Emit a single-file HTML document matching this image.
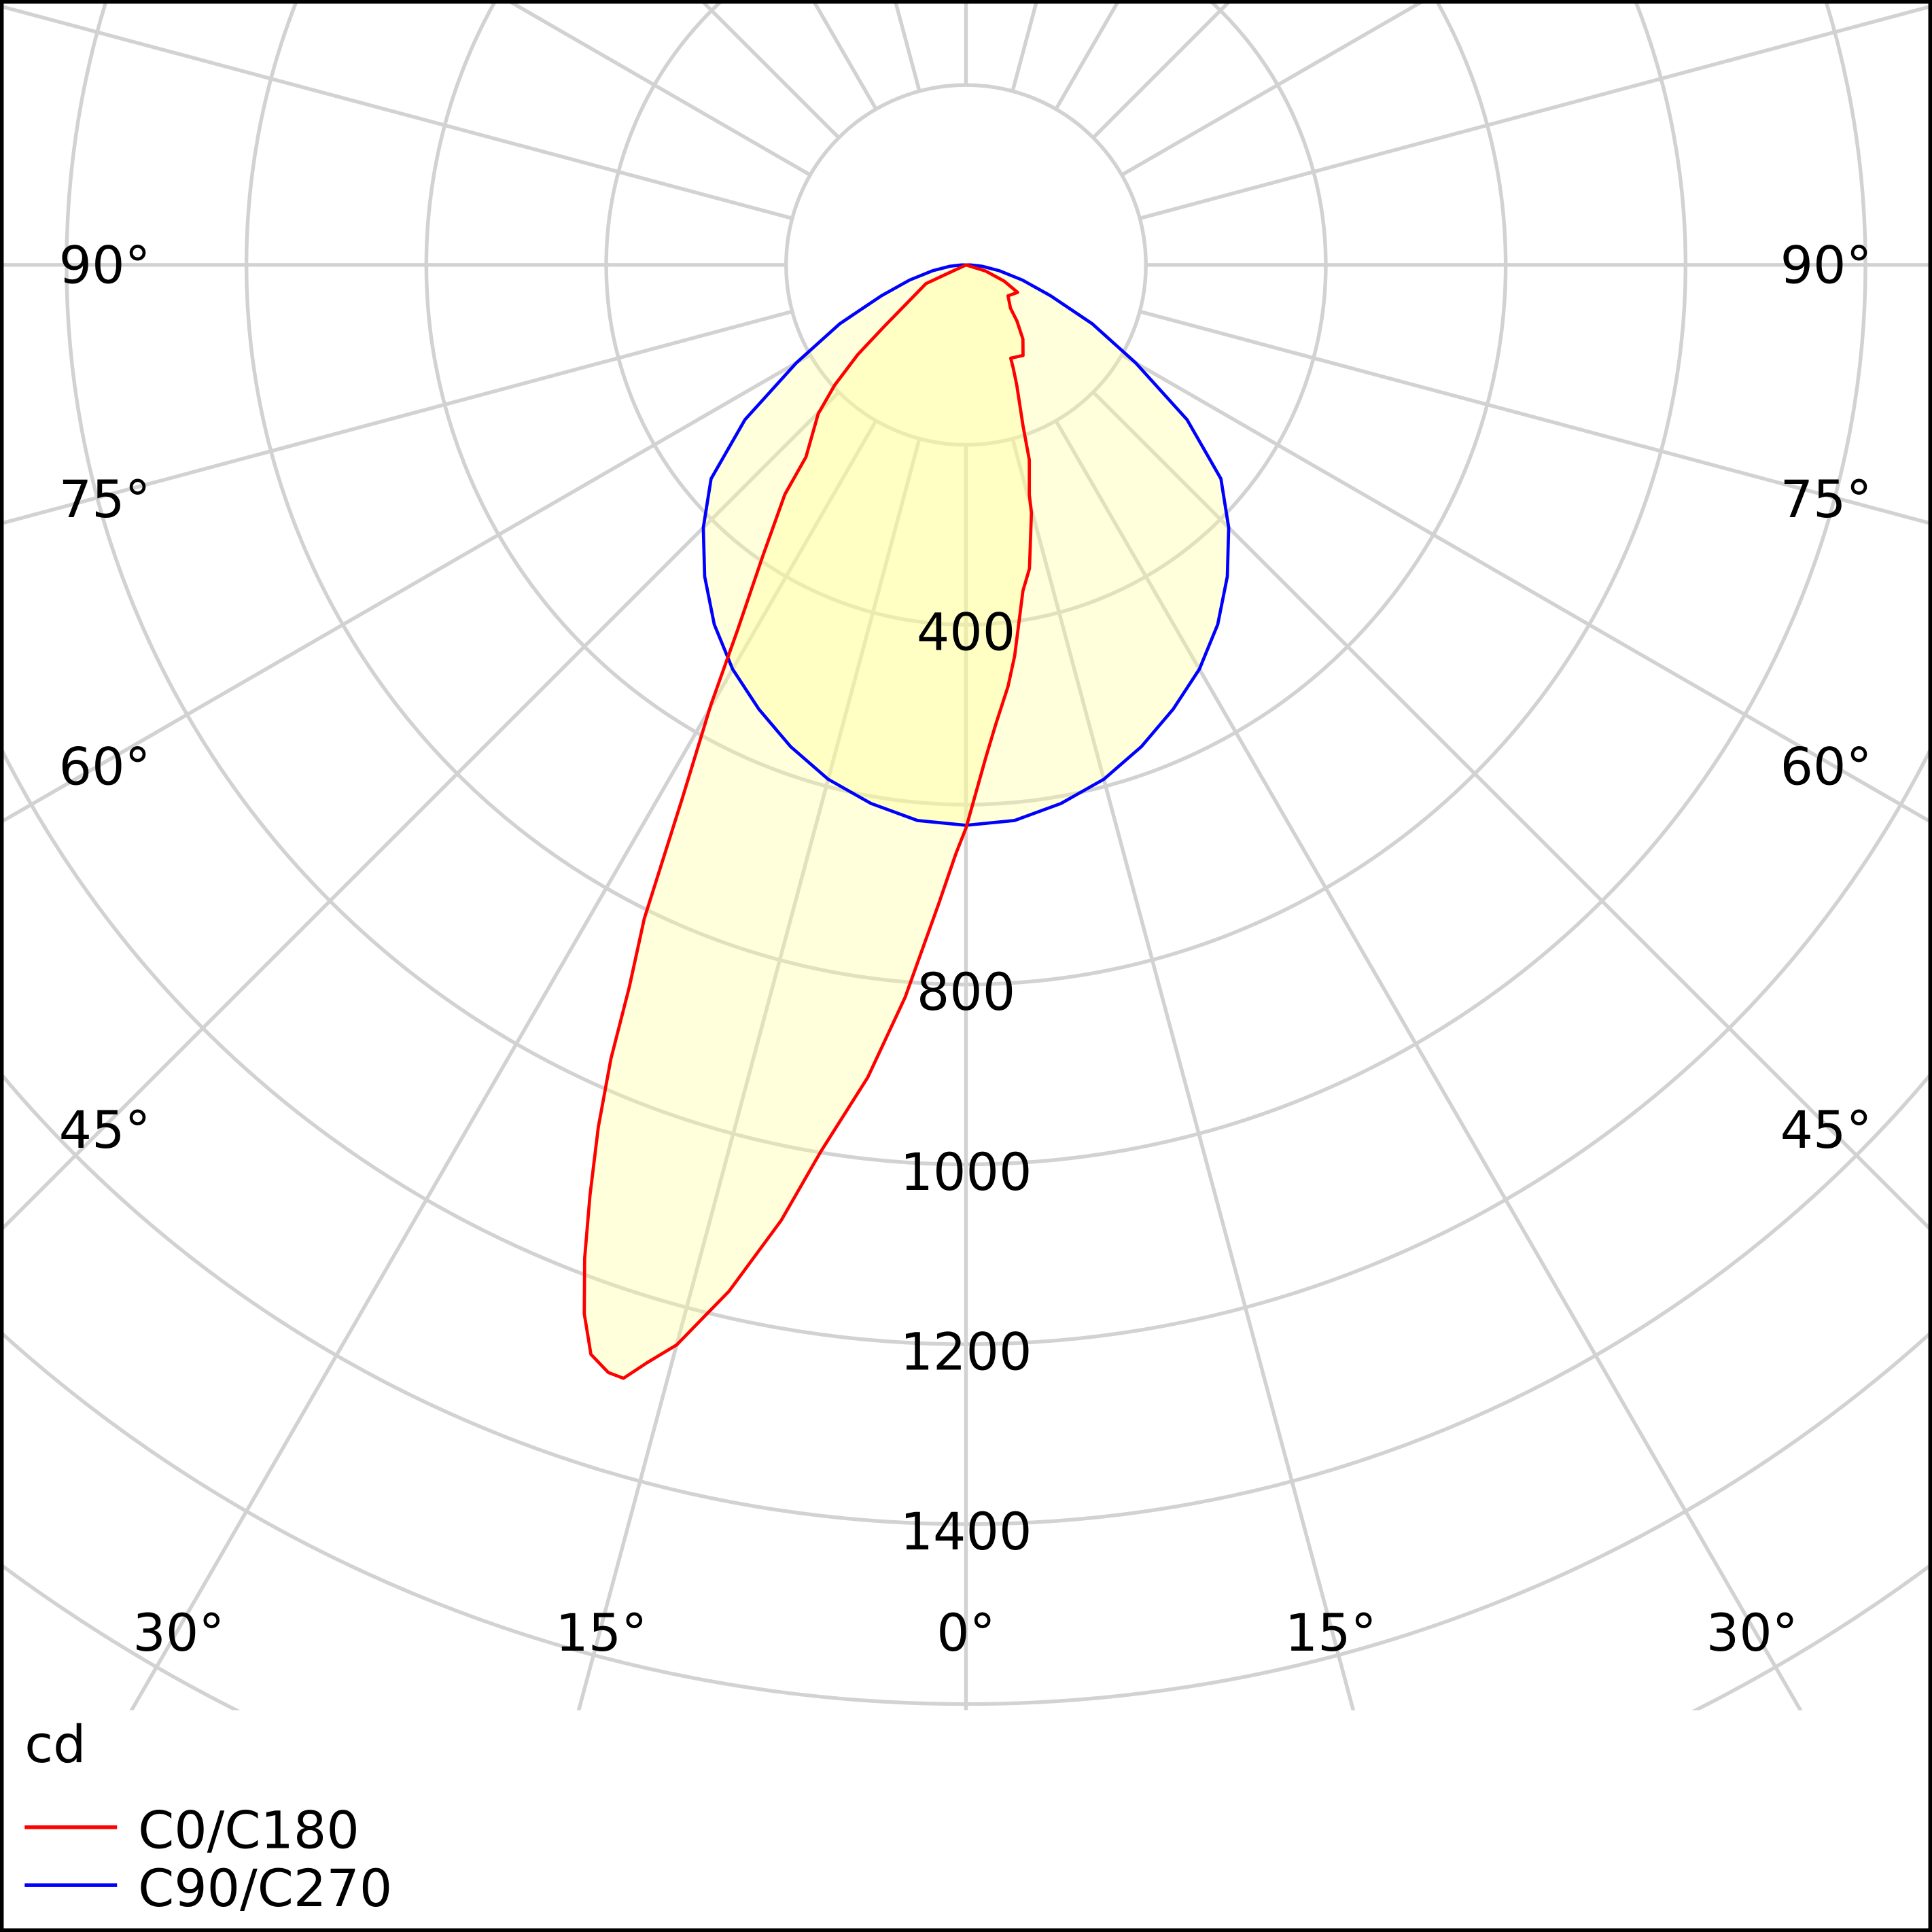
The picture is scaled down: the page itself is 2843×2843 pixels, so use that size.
<!DOCTYPE html>
<html><head><meta charset="utf-8"><style>
html,body{margin:0;padding:0;background:#fff;width:2843px;height:2843px;overflow:hidden}
svg{display:block}
text{font-family:"DejaVu Sans","Liberation Sans",sans-serif;fill:#000}
</style></head><body>
<svg id="chart" width="2843" height="2843" viewBox="0 0 1568 1568" xmlns="http://www.w3.org/2000/svg">
<defs><clipPath id="plotclip"><rect x="0" y="0" width="1568" height="1388"/></clipPath></defs>
<rect x="0" y="0" width="1568" height="1568" fill="#fff"/>
<g id="grid" clip-path="url(#plotclip)"></g>
<g id="series" clip-path="url(#plotclip)"></g>
<g id="labels"></g>
<g>
<text x="20" y="1430" font-size="42">cd</text>
<line x1="20" y1="1483" x2="95" y2="1483" stroke="#ff0000" stroke-width="3"/>
<text x="112" y="1500" font-size="42">C0/C180</text>
<line x1="20" y1="1530" x2="95" y2="1530" stroke="#0000ff" stroke-width="3"/>
<text x="112" y="1547" font-size="42">C90/C270</text>
</g>
<rect x="1.5" y="1.5" width="1565" height="1565" fill="none" stroke="#000" stroke-width="3"/>
</svg>
<script>
const ringValues = [200,400,600,800,1000,1200,1400,1600,1800,2000,2200];
const ringLabels = ["400","800","1000","1200","1400"];
const gridAngles = [-180,-165,-150,-135,-120,-105,-90,-75,-60,-45,-30,-15,0,15,30,45,60,75,90,105,120,135,150,165];
const redAngles = [-90,-65,-53,-50.4,-47.5,-44.8,-39.8,-38.3,-34.9,-32,-30.1,-28,-26.2,-25,-24.1,-23.1,-22,-21,-20,-19,-17.9,-17.1,-16.2,-15,-13,-10.95,-9.3,-6.9,-4.75,-2.45,-1,0,2.3,3.7,5.7,7.1,9.9,11.8,14.8,15.4,18,19.5,22.9,24.6,25.6,32.2,37.5,42.3,45.8,53.7,62,67,72.6,90];
const redValues = [0,49,114,156,198,233,278,325,395,480,566,672,810,886,967,1042,1116,1183,1241,1281,1294,1295,1271,1243,1171,1082,999,910,817,711,655,626,548,512,471,438,368,345,285,265,228,190,145,126,115,119,104,84,69,58,65,46,23,0];
const blueAngles = [-90,-85,-80,-75,-70,-65,-60,-55,-50,-45,-40,-35,-30,-25,-20,-15,-10,-5,0,5,10,15,20,25,30,35,40,45,50,55,60,65,70,75,80,85,90];
const blueValues = [5,18,38,65,100,155,218,300,370,413,452,488,519,545,570,592,608,620,623,620,608,592,570,545,519,488,452,413,370,300,218,155,100,65,38,18,5];
const angleLabels = [
 {t:"90°",x:85,y:215},{t:"90°",x:1482,y:215},{t:"75°",x:85,y:405},{t:"75°",x:1482,y:405},
 {t:"60°",x:85,y:622},{t:"60°",x:1482,y:622},{t:"45°",x:85,y:917},{t:"45°",x:1482,y:917},
 {t:"30°",x:145,y:1325},{t:"30°",x:1422,y:1325},{t:"15°",x:488,y:1325},{t:"15°",x:1080,y:1325},{t:"0°",x:784,y:1325}];
const CX=784, CY=215, PX=146/200;
const NS="http://www.w3.org/2000/svg";
function rScale(v){return v*PX;}
function pt(a,v){const r=rScale(v), t=a*Math.PI/180; return [CX+r*Math.sin(t), CY+r*Math.cos(t)];}
const grid=document.getElementById('grid');
ringValues.forEach(v=>{
 const c=document.createElementNS(NS,'circle');
 c.setAttribute('cx',CX);c.setAttribute('cy',CY);c.setAttribute('r',rScale(v));
 c.setAttribute('fill','none');c.setAttribute('stroke','#d2d2d2');c.setAttribute('stroke-width','3');
 
 
 grid.appendChild(c);
});
gridAngles.forEach(a=>{
 const p1=pt(a,200), p2=pt(a,3000);
 const l=document.createElementNS(NS,'line');
 l.setAttribute('x1',p1[0]);l.setAttribute('y1',p1[1]);l.setAttribute('x2',p2[0]);l.setAttribute('y2',p2[1]);
 l.setAttribute('stroke','#d2d2d2');l.setAttribute('stroke-width','3');
 
 
 grid.appendChild(l);
});
const series=document.getElementById('series');
function pathD(angles,vals){return angles.map((a,i)=>{const p=pt(a,vals[i]);return (i?'L':'M')+p[0].toFixed(1)+' '+p[1].toFixed(1);}).join(' ')+' Z';}
[[blueAngles,blueValues,'#0000ff','curve-c90-c270'],[redAngles,redValues,'#ff0000','curve-c0-c180']].forEach(s=>{
 const f=document.createElementNS(NS,'path');
 f.setAttribute('d',pathD(s[0],s[1]));f.setAttribute('fill','rgba(255,255,150,0.33)');f.setAttribute('stroke','none');
 
 
 series.appendChild(f);
});
[[blueAngles,blueValues,'#0000ff','curve-c90-c270'],[redAngles,redValues,'#ff0000','curve-c0-c180']].forEach(s=>{
 const p=document.createElementNS(NS,'path');
 p.setAttribute('d',pathD(s[0],s[1]));p.setAttribute('fill','none');p.setAttribute('stroke',s[2]);p.setAttribute('stroke-width','2.6');
 p.setAttribute('stroke-linejoin','round');
 
 
 series.appendChild(p);
});
const labels=document.getElementById('labels');
ringLabels.forEach(t=>{
 const v=+t;
 const e=document.createElementNS(NS,'text');
 e.setAttribute('x',CX);e.setAttribute('y',CY+rScale(v)+6);e.setAttribute('font-size','42');
 e.setAttribute('text-anchor','middle');e.setAttribute('dominant-baseline','central');
 e.textContent=t;
 
 
 labels.appendChild(e);
});
angleLabels.forEach(o=>{
 const e=document.createElementNS(NS,'text');
 e.setAttribute('x',o.x);e.setAttribute('y',o.y);e.setAttribute('font-size','42');
 e.setAttribute('text-anchor','middle');e.setAttribute('dominant-baseline','central');
 e.textContent=o.t;
 
 
 labels.appendChild(e);
});
</script>
</body></html>
